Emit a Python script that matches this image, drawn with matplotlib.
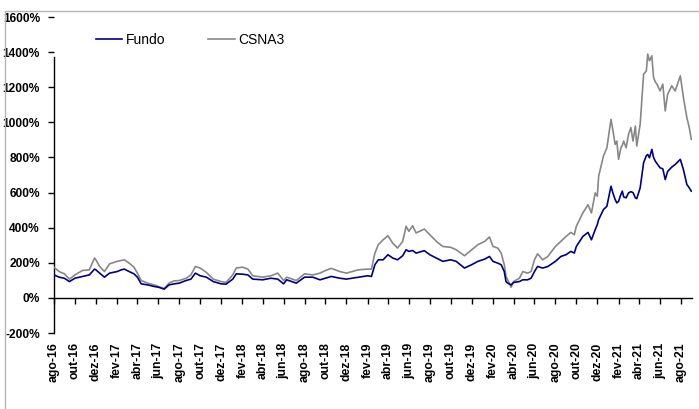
import matplotlib
matplotlib.use("Agg")
import matplotlib.pyplot as plt
from matplotlib.patches import Rectangle
from matplotlib.ticker import FuncFormatter, FixedFormatter
import pandas as pd

dates = [
    "2016-08-01", "2016-08-16", "2016-08-31", "2016-09-15", "2016-10-01", "2016-10-23", "2016-11-12",
    "2016-11-27", "2016-12-01", "2016-12-12", "2016-12-26",
    "2017-01-10", "2017-02-01", "2017-02-13", "2017-02-22", "2017-03-08", "2017-03-22", "2017-04-01",
    "2017-04-12", "2017-05-01", "2017-05-20", "2017-06-01", "2017-06-18", "2017-07-02", "2017-07-17",
    "2017-08-01", "2017-08-21", "2017-09-04", "2017-09-17", "2017-10-01", "2017-10-19", "2017-11-08",
    "2017-12-01", "2017-12-15",
    "2018-01-04", "2018-01-14", "2018-02-01", "2018-02-17", "2018-03-03", "2018-04-01", "2018-04-25",
    "2018-05-15", "2018-06-01", "2018-06-10", "2018-07-08", "2018-08-01", "2018-08-25", "2018-09-15",
    "2018-10-01", "2018-10-18", "2018-11-12", "2018-12-01",
    "2019-01-05", "2019-02-01", "2019-02-12", "2019-02-22", "2019-03-04", "2019-03-18", "2019-04-01",
    "2019-04-15", "2019-04-29", "2019-05-14", "2019-05-24", "2019-06-01", "2019-06-12", "2019-06-22",
    "2019-07-16", "2019-08-01", "2019-08-20", "2019-09-08", "2019-10-01", "2019-10-17", "2019-11-10",
    "2019-12-01", "2019-12-19",
    "2020-01-08", "2020-01-22", "2020-02-01", "2020-02-15", "2020-02-25", "2020-03-05", "2020-03-10",
    "2020-03-15", "2020-03-25", "2020-04-01", "2020-04-18", "2020-04-28", "2020-05-12", "2020-05-22",
    "2020-06-01", "2020-06-10", "2020-06-25", "2020-07-10", "2020-08-01", "2020-08-17", "2020-09-01",
    "2020-09-15", "2020-09-25", "2020-10-01", "2020-10-20", "2020-11-04", "2020-11-14", "2020-11-25",
    "2020-12-01", "2020-12-05", "2020-12-19", "2020-12-29",
    "2021-01-10", "2021-01-16", "2021-01-22", "2021-01-27", "2021-02-01", "2021-02-08", "2021-02-12",
    "2021-02-16", "2021-02-23", "2021-03-02", "2021-03-09", "2021-03-15", "2021-03-22", "2021-03-26",
    "2021-04-05", "2021-04-15", "2021-04-23", "2021-04-27", "2021-05-02", "2021-05-09", "2021-05-14",
    "2021-05-19", "2021-05-24", "2021-06-02", "2021-06-10", "2021-06-17", "2021-06-24", "2021-07-06",
    "2021-07-16", "2021-07-31", "2021-08-09", "2021-08-19", "2021-08-26", "2021-09-01",
]

fundo = [
    131, 118, 112, 93, 112, 122, 131, 164, 160, 141, 118,
    141, 150, 160, 164, 150, 137, 118, 80, 74, 65, 61, 50, 74, 80, 84, 99, 107, 141, 126, 118, 93, 80, 78,
    107, 137, 135, 131, 107, 103, 112, 107, 80, 103, 84, 118, 118, 103, 112, 122, 112, 107,
    118, 126, 122, 189, 217, 217, 246, 227, 217, 240, 274, 265, 270, 255, 269, 246, 227, 208, 217, 208,
    170, 189, 208,
    221, 236, 208, 198, 189, 150, 93, 84, 74, 88, 93, 103, 103, 112, 150, 179, 170, 179, 208, 236, 246,
    265, 255, 293, 350, 373, 331, 389, 417, 446, 503, 522,
    636, 595, 560, 541, 550, 590, 608, 575, 570, 598, 605, 600, 570, 565,
    627, 770, 810, 817, 798, 846, 800, 779, 765, 741, 735, 674, 720, 745,
    760, 789, 731, 646, 627, 608,
]

csna3 = [
    175, 150, 137, 107, 131, 156, 160, 227, 217, 179, 150,
    194, 208, 213, 217, 198, 175, 141, 99, 84, 74, 65, 53, 84, 97, 99, 112, 131, 179, 170, 145, 107, 93, 88,
    131, 170, 175, 164, 126, 118, 126, 141, 99, 118, 99, 137, 131, 141, 156, 168, 150, 141,
    160, 164, 164, 255, 303, 331, 354, 312, 284, 322, 408, 379, 411, 370, 392, 360, 322, 293, 288, 274,
    240, 274, 303,
    322, 347, 293, 284, 255, 189, 122, 103, 61, 93, 112, 150, 141, 150, 217, 251, 217, 236, 293, 322, 350,
    373, 360, 408, 484, 531, 484, 598, 579, 693, 808, 855,
    1017, 950, 874, 893, 789, 855, 870, 893, 855, 931, 970, 893, 979, 865,
    989, 1274, 1293, 1389, 1350, 1379, 1255, 1230, 1217, 1179, 1217, 1065, 1160, 1208,
    1179, 1265, 1141, 1027, 970, 903,
]

tick_dates = [
    "2016-08-01", "2016-10-01", "2016-12-01", "2017-02-01", "2017-04-01", "2017-06-01", "2017-08-01",
    "2017-10-01", "2017-12-01", "2018-02-01", "2018-04-01", "2018-06-01", "2018-08-01", "2018-10-01",
    "2018-12-01", "2019-02-01", "2019-04-01", "2019-06-01", "2019-08-01", "2019-10-01", "2019-12-01",
    "2020-02-01", "2020-04-01", "2020-06-01", "2020-08-01", "2020-10-01", "2020-12-01", "2021-02-01",
    "2021-04-01", "2021-06-01", "2021-08-01",
]
tick_labels = [
    "ago-16", "out-16", "dez-16", "fev-17", "abr-17", "jun-17", "ago-17", "out-17", "dez-17", "fev-18",
    "abr-18", "jun-18", "ago-18", "out-18", "dez-18", "fev-19", "abr-19", "jun-19", "ago-19", "out-19",
    "dez-19", "fev-20", "abr-20", "jun-20", "ago-20", "out-20", "dez-20", "fev-21", "abr-21", "jun-21",
    "ago-21",
]

plt.rcParams["font.family"] = ["Liberation Sans", "DejaVu Sans"]

W, H = 699, 409
fig = plt.figure(figsize=(W / 100, H / 100), dpi=100)
fig.patch.set_facecolor("white")

# outer chart border
fig.patches.append(Rectangle((4.5 / W, -0.05), 1.2, 1 - 10.5 / H + 0.05, transform=fig.transFigure,
                             fill=False, edgecolor="#B4B4B4", linewidth=1.0, zorder=0))

left, right, top, bottom = 54, 692, 17, 333
ax = fig.add_axes([left / W, 1 - bottom / H, (right - left) / W, (bottom - top) / H])
ax.set_facecolor("none")

x = pd.to_datetime(dates)
ax.plot(x, csna3, color="#878787", lw=1.2, label="CSNA3", zorder=3)
ax.plot(x, fundo, color="#000080", lw=1.2, label="Fundo", zorder=4)

ax.set_ylim(-200, 1600)
ax.set_yticks(range(-200, 1601, 200))
ax.yaxis.set_major_formatter(FuncFormatter(lambda v, p: f"{int(v)}%"))
ax.set_xlim(pd.Timestamp("2016-08-01"), pd.Timestamp("2021-09-03"))
ax.set_xticks(pd.to_datetime(tick_dates))
ax.xaxis.set_major_formatter(FixedFormatter(tick_labels))

for s in ["top", "right"]:
    ax.spines[s].set_visible(False)
ax.spines["bottom"].set_position(("data", 0))
ax.spines["left"].set_bounds(-200, 1370)
for s in ["left", "bottom"]:
    ax.spines[s].set_color("black")
    ax.spines[s].set_linewidth(1.0)

ax.tick_params(axis="y", direction="out", length=4, width=1, labelsize=8.6, pad=6)
ax.tick_params(axis="x", direction="out", length=4, width=1, pad=28, labelsize=8.8, labelrotation=90)

handles, labels = ax.get_legend_handles_labels()
leg = ax.legend(handles[::-1], labels[::-1], ncol=2, frameon=False, fontsize=10,
                loc="center left", bbox_to_anchor=((96 - left) / (right - left), (bottom - 40) / (bottom - top)),
                handlelength=1.9, handletextpad=0.25, columnspacing=3.1, borderaxespad=0, borderpad=0)

fig.canvas.draw()
for lab in ax.get_xticklabels():
    lab.set_fontweight("bold")
    lab.set_verticalalignment("top")
    lab.set_horizontalalignment("center")
for lab in ax.get_yticklabels():
    lab.set_fontweight("bold")

fig.savefig("out.png", dpi=100)
